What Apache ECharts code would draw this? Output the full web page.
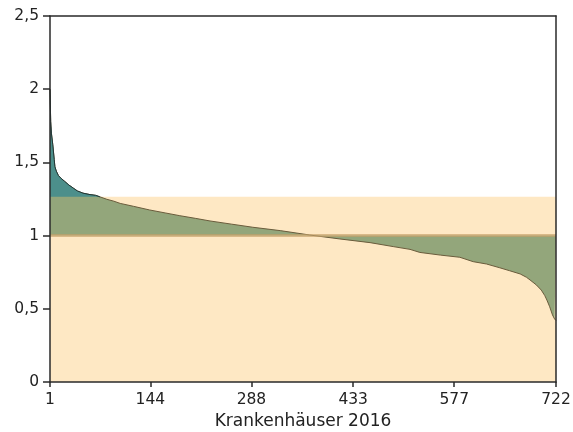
<!DOCTYPE html>
<html>
<head>
<meta charset="utf-8">
<script src="https://cdn.jsdelivr.net/npm/echarts@6/dist/echarts.min.js"></script>
<style>html,body{margin:0;padding:0;background:#fff}#c{width:573px;height:432px}</style>
</head>
<body>
<div id="c"></div>
<script>
// Sorted ratio per hospital (rank index, value)
const ranks = [1,2,3,5,7,8,10,13,17,22,28,34,40,48,58,66,72,82,92,101,120,143,165,186,208,229,260,290,329,371,414,457,490,514,528,557,585,604,623,642,656,671,680,685,694,701,706,709,713,717,720,722];
const values = [2.00,1.78,1.70,1.62,1.52,1.47,1.44,1.41,1.39,1.37,1.345,1.325,1.305,1.29,1.28,1.275,1.265,1.248,1.235,1.22,1.20,1.175,1.155,1.136,1.118,1.10,1.078,1.057,1.034,1.004,0.977,0.952,0.925,0.906,0.885,0.867,0.852,0.822,0.806,0.78,0.76,0.738,0.715,0.697,0.663,0.628,0.59,0.56,0.514,0.458,0.43,0.42];
const xTicks = [1,144,288,433,577,722];
const yTicks = [0,0.5,1,1.5,2,2.5];
const refLine = 1;
const upperBand = 1.265;
const xTitle = 'Krankenhäuser 2016';

const curve = ranks.map((r,i)=>[r, values[i]]);
const upper = curve.filter(p => p[1] >= upperBand);

const font = 'DejaVu Sans, Verdana, sans-serif';
const axisColor = '#2a2a2a';
const chart = echarts.init(document.getElementById('c'), null, {renderer:'canvas'});
chart.setOption({
  animation:false,
  grid:{left:50,right:17,top:16,bottom:50,containLabel:false,outerBoundsMode:'none'},
  xAxis:[{
    type:'value',min:1,max:722,position:'bottom',z:10,
    name:xTitle,nameLocation:'middle',nameGap:31,
    nameTextStyle:{fontFamily:font,fontSize:17,color:'#222'},
    axisLine:{show:true,lineStyle:{color:axisColor,width:1.5}},
    axisTick:{show:true,length:5,customValues:xTicks,lineStyle:{color:axisColor,width:1.5}},
    axisLabel:{customValues:xTicks,fontFamily:font,fontSize:15.5,color:'#222',margin:10},
    splitLine:{show:false}
  },{
    type:'value',min:1,max:722,position:'top',z:10,
    axisLine:{show:true,onZero:false,lineStyle:{color:axisColor,width:1.5}},
    axisTick:{show:false},axisLabel:{show:false},splitLine:{show:false}
  }],
  yAxis:[{
    type:'value',min:0,max:2.5,interval:0.5,position:'left',z:10,
    axisLine:{show:true,lineStyle:{color:axisColor,width:1.5}},
    axisTick:{show:true,length:7,lineStyle:{color:axisColor,width:1.5}},
    axisLabel:{fontFamily:font,fontSize:15.5,color:'#222',margin:11,
      formatter:v=>String(v).replace('.',',')},
    splitLine:{show:false}
  },{
    type:'value',min:0,max:2.5,position:'right',z:10,
    axisLine:{show:true,onZero:false,lineStyle:{color:axisColor,width:1.5}},
    axisTick:{show:false},axisLabel:{show:false},splitLine:{show:false}
  }],
  series:[
    {type:'line',z:1,symbol:'none',silent:true,
     data:[[1,upperBand],[722,upperBand]],
     lineStyle:{width:0,opacity:0},
     areaStyle:{color:'#fee8c4',opacity:1,origin:'start'}},
    {type:'line',z:2,symbol:'none',silent:true,data:curve,
     lineStyle:{color:'#6a5c3c',width:1},
     areaStyle:{color:'#93a67b',opacity:1,origin:refLine}},
    {type:'line',z:3,symbol:'none',silent:true,data:upper,
     lineStyle:{color:'#1f3535',width:1},
     areaStyle:{color:'#4c8f8b',opacity:1,origin:upperBand}},
    {type:'line',z:4,symbol:'none',silent:true,
     data:[[1,refLine],[722,refLine]],
     lineStyle:{color:'rgba(196,160,105,0.65)',width:3}}
  ]
});
</script>
</body>
</html>
